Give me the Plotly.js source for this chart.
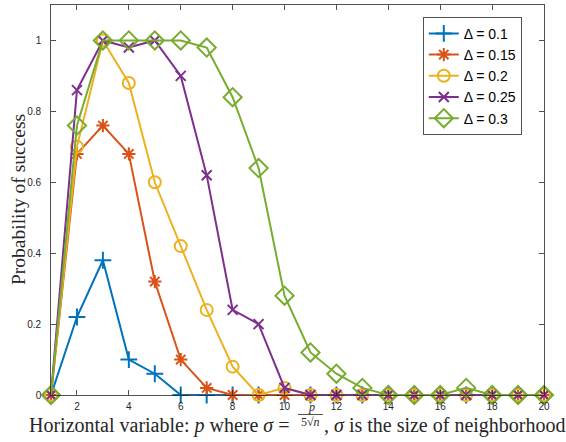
<!DOCTYPE html>
<html>
<head>
<meta charset="utf-8">
<script src="https://cdn.plot.ly/plotly-3.0.1.min.js"></script>
<style>
  html, body { margin: 0; padding: 0; background: #fff; }
  #chart { width: 566px; height: 442px; }
</style>
</head>
<body>
<div id="chart"></div>
<script>
// Neighborhood size p on the horizontal axis
const p = [1, 2, 3, 4, 5, 6, 7, 8, 9, 10, 11, 12, 13, 14, 15, 16, 17, 18, 19, 20];

// Probability of success for each threshold Δ
const delta01  = [0, 0.22, 0.38, 0.10, 0.06, 0, 0, 0, 0, 0, 0, 0, 0, 0, 0, 0, 0, 0, 0, 0];
const delta015 = [0, 0.68, 0.76, 0.68, 0.32, 0.10, 0.02, 0, 0, 0, 0, 0, 0, 0, 0, 0, 0, 0, 0, 0];
const delta02  = [0, 0.70, 1.00, 0.88, 0.60, 0.42, 0.24, 0.08, 0, 0.02, 0, 0, 0, 0, 0, 0, 0, 0, 0, 0];
const delta025 = [0, 0.86, 1.00, 0.98, 1.00, 0.90, 0.62, 0.24, 0.20, 0.02, 0, 0, 0, 0, 0, 0, 0, 0, 0, 0];
const delta03  = [0, 0.76, 1.00, 1.00, 1.00, 1.00, 0.98, 0.84, 0.64, 0.28, 0.12, 0.06, 0.02, 0, 0, 0, 0.02, 0, 0, 0];

const seriesNames = ['Δ = 0.1', 'Δ = 0.15', 'Δ = 0.2', 'Δ = 0.25', 'Δ = 0.3'];
const yTicks = [0, 0.2, 0.4, 0.6, 0.8, 1];
const yTickText = ['0', '0.2', '0.4', '0.6', '0.8', '1'];
const xTicks = [2, 4, 6, 8, 10, 12, 14, 16, 18, 20];

const colors = ['#0072BD', '#D95319', '#EDB120', '#7E2F8E', '#77AC30'];
const symbols = ['cross-thin-open', 'asterisk-open', 'circle-open', 'x-thin-open', 'diamond-open'];
const sizes = [12, 11, 12, 10, 14];
const values = [delta01, delta015, delta02, delta025, delta03];

const traces = values.map((v, i) => ({
  x: p,
  y: v,
  name: seriesNames[i],
  type: 'scatter',
  mode: 'lines+markers',
  line: { color: colors[i], width: 2 },
  marker: { symbol: symbols[i], size: sizes[i], color: colors[i], line: { color: colors[i], width: 2 } },
  cliponaxis: false
}));

// Plot area in pixels
const W = 566, H = 442;
const L = 51, R = 22, T = 5, B = 47;
const pw = W - L - R, ph = H - T - B;
const px = x => (x - L) / pw;
const py = y => (H - B - y) / ph;

const serif = 'Liberation Serif, DejaVu Serif, serif';
const labelColor = '#262626';

const annotations = [
  {
    text: 'Horizontal variable: <i>p</i> where <i>σ</i> =',
    xref: 'paper', yref: 'paper', x: px(291), y: py(425),
    xanchor: 'right', yanchor: 'middle', showarrow: false, borderpad: 0,
    font: { family: serif, size: 20, color: labelColor }
  },
  {
    text: '<i>p</i>',
    xref: 'paper', yref: 'paper', x: px(311), y: py(407),
    xanchor: 'center', yanchor: 'middle', showarrow: false, borderpad: 0,
    font: { family: serif, size: 12, color: labelColor }
  },
  {
    text: '5√<i>n</i>',
    xref: 'paper', yref: 'paper', x: px(310), y: py(421.5),
    xanchor: 'center', yanchor: 'middle', showarrow: false, borderpad: 0,
    font: { family: serif, size: 12, color: labelColor }
  },
  {
    text: ', <i>σ</i> is the size of neighborhood',
    xref: 'paper', yref: 'paper', x: px(323), y: py(425),
    xanchor: 'left', yanchor: 'middle', showarrow: false, borderpad: 0,
    font: { family: serif, size: 20, color: labelColor }
  },
  {
    text: 'Probability of success',
    xref: 'paper', yref: 'paper', x: px(18), y: py(200),
    xanchor: 'center', yanchor: 'middle', textangle: -90, showarrow: false,
    font: { family: serif, size: 19.5, color: labelColor }
  }
];

const shapes = [
  // fraction bar
  { type: 'line', xref: 'paper', yref: 'paper', x0: px(298), x1: px(323), y0: py(414.5), y1: py(414.5),
    line: { color: labelColor, width: 0.8 } }
];

const axisCommon = {
  showgrid: false,
  zeroline: false,
  showline: true,
  mirror: 'ticks',
  ticks: 'inside',
  ticklen: 5,
  tickwidth: 0.8,
  tickcolor: labelColor,
  linecolor: labelColor,
  linewidth: 0.8,
  tickfont: { family: 'Liberation Sans, Arial, sans-serif', size: 10, color: labelColor }
};

const layout = {
  width: W,
  height: H,
  margin: { l: L, r: R, t: T, b: B, pad: 0 },
  paper_bgcolor: '#ffffff',
  plot_bgcolor: '#ffffff',
  showlegend: true,
  legend: {
    x: px(423), y: py(17), xanchor: 'left', yanchor: 'top',
    bgcolor: '#ffffff', bordercolor: labelColor, borderwidth: 0.8,
    font: { family: 'Liberation Sans, Arial, sans-serif', size: 14, color: '#000' },
    tracegroupgap: 0,
    itemwidth: 30
  },
  xaxis: Object.assign({}, axisCommon, {
    range: [1, 20],
    tickvals: xTicks,
    ticktext: xTicks.map(String),
    ticklabelstandoff: 2
  }),
  yaxis: Object.assign({}, axisCommon, {
    range: [0, 1.1],
    tickvals: yTicks,
    ticktext: yTickText,
    ticklabelstandoff: 7
  }),
  annotations: annotations,
  shapes: shapes
};

Plotly.newPlot('chart', traces, layout, { displayModeBar: false, staticPlot: true });
</script>
</body>
</html>
